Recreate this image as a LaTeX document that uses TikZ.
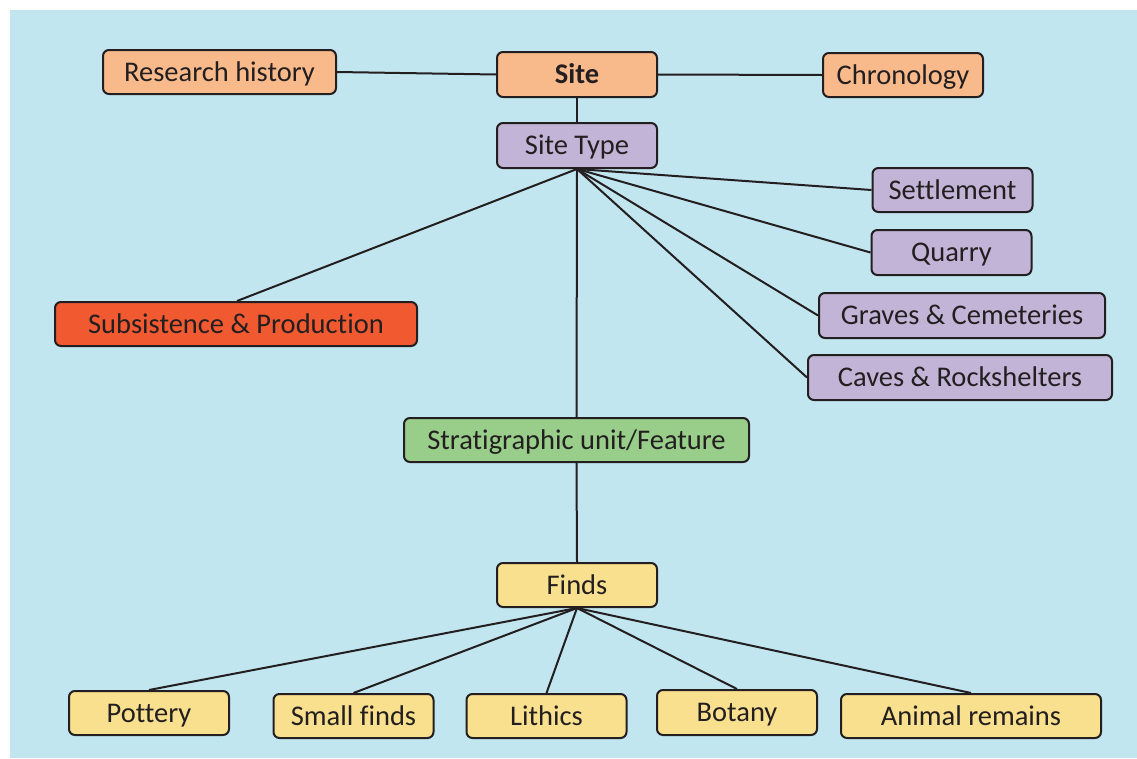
\documentclass[tikz,border=0pt]{standalone}
\usepackage{fontspec}
\setmainfont{Carlito}[Ligatures=NoCommon]
\usetikzlibrary{calc}
\definecolor{bgblue}{HTML}{C2E6EF}
\definecolor{siteorange}{HTML}{F9BA8B}
\definecolor{typepurple}{HTML}{C2B4D6}
\definecolor{subsred}{HTML}{F15A31}
\definecolor{stratgreen}{HTML}{98CD8A}
\definecolor{findyellow}{HTML}{F9E08E}
\definecolor{edgedark}{HTML}{231F20}

\begin{document}
\begin{tikzpicture}[x=1pt, y=-1pt,
	box/.style={draw=edgedark, line width=2pt, rounded corners=6pt, minimum height=44pt, minimum width=160pt, inner sep=0pt, text height=18pt, text depth=0pt, text=edgedark, font=\fontsize{28.5}{32}\selectfont},
	link/.style={draw=edgedark, line width=2pt}]
	\useasboundingbox (0, 0) rectangle (1137, 758);
	\fill[bgblue] (10, 10) rectangle (1137, 758);

	% top row
	\node[box, fill=siteorange, minimum width=233pt] (hist) at (219.5, 72) {Research history};
	\node[box, fill=siteorange, minimum height=45pt, font=\fontsize{28.5}{32}\selectfont\bfseries] (site) at (577, 74.5) {Site};
	\node[box, fill=siteorange] (chron) at (903, 75) {Chronology};
	\node[box, fill=typepurple, minimum height=45pt] (type) at (577, 145.5) {Site Type};

	% site types
	\node[box, fill=typepurple] (settle) at (952.5, 190) {Settlement};
	\node[box, fill=typepurple, minimum height=45pt] (quarry) at (951.5, 252.5) {Quarry};
	\node[box, fill=typepurple, minimum width=286pt, minimum height=45pt] (graves) at (962, 315.5) {Graves \& Cemeteries};
	\node[box, fill=typepurple, minimum width=304pt, minimum height=45pt] (caves) at (960, 377.5) {Caves \& Rockshelters};
	\node[box, fill=subsred, minimum width=362pt] (subs) at (236, 324) {Subsistence \& Production};
	\node[box, fill=stratgreen, minimum width=345pt] (strat) at (576.5, 440) {Stratigraphic unit/Feature};

	% finds
	\node[box, fill=findyellow] (finds) at (577, 585) {Finds};
	\node[box, fill=findyellow] (pot) at (149, 713) {Pottery};
	\node[box, fill=findyellow] (small) at (353.5, 716) {Small finds};
	\node[box, fill=findyellow] (lith) at (546.5, 716) {Lithics};
	\node[box, fill=findyellow, minimum height=45pt] (bot) at (737, 712.5) {Botany};
	\node[box, fill=findyellow, minimum width=260pt] (anim) at (971, 716) {Animal remains};

	\draw[link] (hist.east) -- (site.west);
	\draw[link] (site.east) -- (chron.west);
	\draw[link] (site.south) -- (type.north);
	\foreach \t in {settle, quarry, graves, caves}
		\draw[link] (type.south) -- (\t.west);
	\draw[link] (type.south) -- ($(subs.north)+(1,0)$);
	\draw[link] (type.south) -- (strat.north);
	\draw[link] (strat.south) -- (finds.north);
	\foreach \f in {pot, small, lith, bot, anim}
		\draw[link] (finds.south) -- (\f.north);
\end{tikzpicture}
\end{document}
